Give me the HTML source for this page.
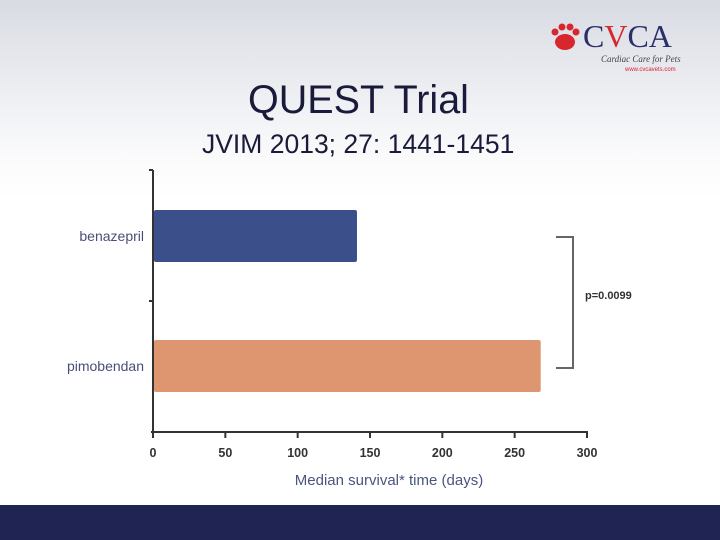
<!DOCTYPE html>
<html><head><meta charset="utf-8"><style>
html,body{margin:0;padding:0}
body{width:720px;height:540px;overflow:hidden;position:relative;font-family:"Liberation Sans",sans-serif;
background:linear-gradient(#d9dbe3 0px,#eceef2 90px,#fbfbfc 160px,#fff 200px)}
.t{position:absolute;color:#1a1a3a;white-space:nowrap}
</style></head><body>
<div style="position:absolute;left:545px;top:18px;width:140px;height:60px">
<svg width="140" height="60"><g fill="#d8262e"><circle cx="10" cy="14" r="3.5"/><circle cx="17" cy="9" r="3.5"/><circle cx="25" cy="9" r="3.5"/><circle cx="31" cy="14" r="3.5"/><ellipse cx="20" cy="24" rx="10" ry="8"/></g></svg>
<div class="t" style="left:38px;top:0;font-family:'Liberation Serif',serif;font-size:32px;color:#2a2f6a">C<span style="color:#d8262e">V</span>CA</div>
<div class="t" style="left:56px;top:36px;font-family:'Liberation Serif',serif;font-style:italic;font-size:9px;color:#444">Cardiac Care for Pets</div>
<div class="t" style="left:80px;top:49px;font-size:6px;color:#d8262e">www.cvcavets.com</div>
</div>
<div class="t" style="left:248px;top:78px;font-size:39.5px">QUEST Trial</div>
<div class="t" style="left:202px;top:129px;font-size:26.5px">JVIM 2013; 27: 1441-1451</div>
<svg id="c" width="720" height="540" style="position:absolute;left:0;top:0"></svg>
<div style="position:absolute;left:0;top:505px;width:720px;height:35px;background:#1f2452"></div>
<script>
const categories=["benazepril","pimobendan"];
const values=[141,268];
const ticks=[0,50,100,150,200,250,300];
const colors=["#3b4f8a","#de9670"];
const NS="http://www.w3.org/2000/svg";
const svg=document.getElementById('c');
const x0=153,x1=587,yAxis=432;
const xs=v=>x0+(v-0)/(300-0)*(x1-x0);
const bandTop=170,bandH=131;
function mk(t,a,p){const e=document.createElementNS(NS,t);for(const k in a)e.setAttribute(k,a[k]);(p||svg).appendChild(e);return e;}
let e;
e=mk('line',{x1:x0,y1:bandTop,x2:x0,y2:yAxis,stroke:'#333','stroke-width':2});


mk('line',{x1:x0-4,y1:bandTop,x2:x0,y2:bandTop,stroke:'#333','stroke-width':2});
mk('line',{x1:x0-4,y1:bandTop+bandH,x2:x0,y2:bandTop+bandH,stroke:'#333','stroke-width':2});
e=mk('line',{x1:x0-2,y1:yAxis,x2:x1+1,y2:yAxis,stroke:'#333','stroke-width':2});


ticks.forEach(t=>{
 mk('line',{x1:xs(t),y1:yAxis,x2:xs(t),y2:yAxis+6,stroke:'#333','stroke-width':2});
 e=mk('text',{x:xs(t),y:yAxis+25,'text-anchor':'middle','font-size':12.5,'font-weight':'bold',fill:'#333','font-family':'Liberation Sans'});
 e.textContent=t;
 
 
});
categories.forEach((c,i)=>{
 const cy=236+130*i;
 e=mk('rect',{x:x0+1,y:cy-26,width:xs(values[i])-x0-1,height:52,rx:2,fill:colors[i]});
 
 
 e=mk('text',{x:144,y:cy+5,'text-anchor':'end','font-size':14,fill:'#4a4f78','font-family':'Liberation Sans'});
 e.textContent=c;
 
 
});
e=mk('path',{d:'M556 237 H573 V368 H556',fill:'none',stroke:'#666','stroke-width':2});


e=mk('text',{x:585,y:299,'font-size':11,'font-weight':'bold',fill:'#333','font-family':'Liberation Sans'});
e.textContent='p=0.0099';


e=mk('text',{x:389,y:485,'text-anchor':'middle','font-size':15,fill:'#4a5580','font-family':'Liberation Sans'});
e.textContent='Median survival* time (days)';


</script>
</body></html>
